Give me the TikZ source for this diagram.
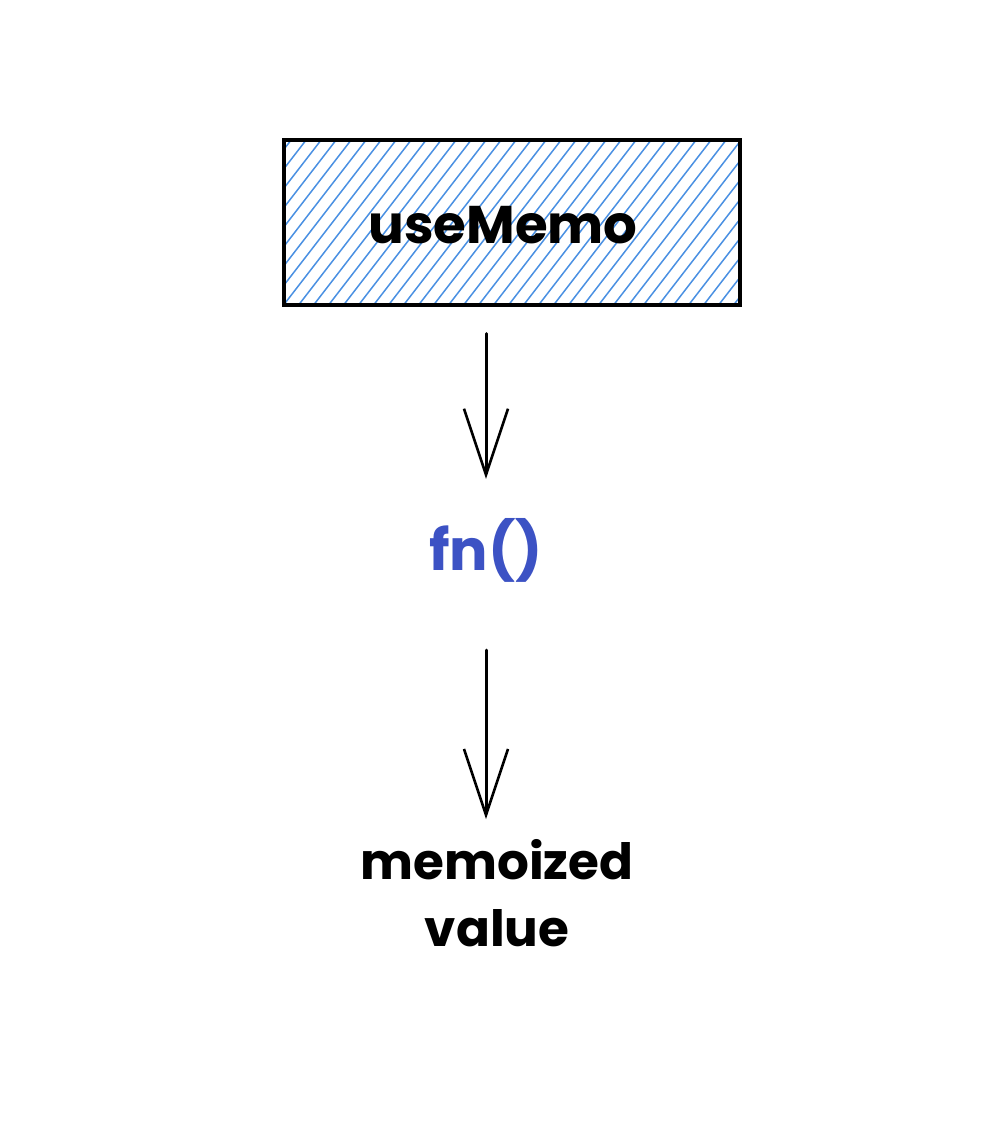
\documentclass[tikz,border=0pt]{standalone}
\usepackage{fontspec}
\setmainfont{Poppins}
\usetikzlibrary{arrows.meta,calc}
\definecolor{hatchblue}{RGB}{74,144,226}
\definecolor{fnblue}{RGB}{60,82,196}
\tikzset{
  hatchbox/.style={draw=black, line width=4pt, minimum width=456pt, minimum height=165pt,
    inner sep=0pt,
    path picture={
      \foreach \i in {-20,...,50}
        \draw[hatchblue, line width=1.5pt]
          ($(path picture bounding box.south west)+(\i*15pt-150pt,0)$) -- ++(170pt,220pt);
    }},
  lbl/.style={font=\fontsize{50pt}{67pt}\selectfont\bfseries, text=black, align=center},
  flow/.style={draw=black, line width=3pt, line cap=round,
    -{Straight Barb[length=66pt, width=44pt, line width=2.6pt]}}
}
\begin{document}
\begin{tikzpicture}[x=1pt,y=-1pt]
\useasboundingbox (0,0) rectangle (1008,1136);
\node[hatchbox] (usememo) at (512,222) {};
\node[lbl, font=\fontsize{53pt}{67pt}\selectfont\bfseries] (usememotxt) at (503,225) {useMemo};
\node[lbl, font=\fontsize{57pt}{67pt}\selectfont\bfseries, text=fnblue, inner sep=0pt] (fn) at (486,550) {fn()};
\node[lbl, inner sep=0pt] (memo) at (497,893) {memoized\\value};
\draw[flow, shorten <=27pt, shorten >=39pt] (usememo.south -| fn.north) -- (fn.north);
\draw[flow, shorten <=68pt, shorten >=20pt] (fn.south) -- (fn.south |- memo.north);
\end{tikzpicture}
\end{document}
